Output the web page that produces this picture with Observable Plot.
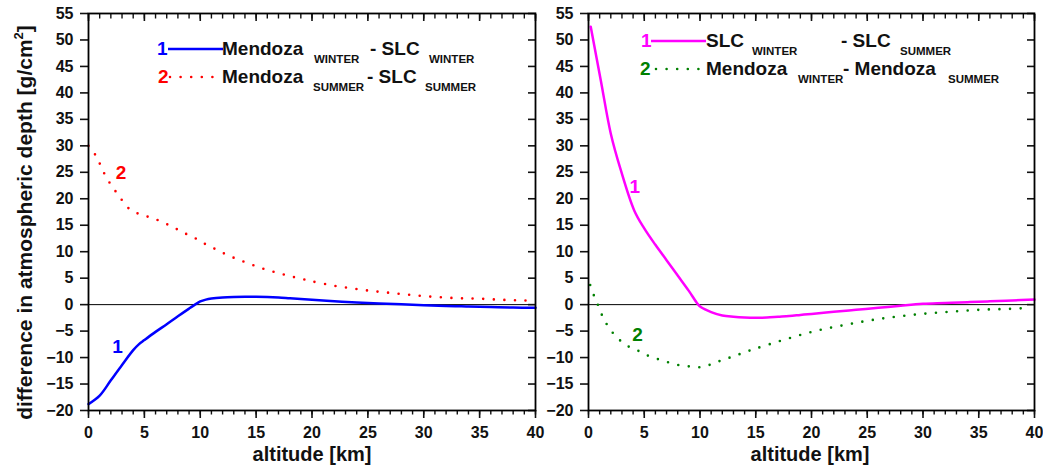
<!DOCTYPE html>
<html>
<head>
<meta charset="utf-8">
<script src="https://cdn.jsdelivr.net/npm/d3@7"></script>
<script src="https://cdn.jsdelivr.net/npm/@observablehq/plot@0.6"></script>
<style>
  html, body { margin: 0; padding: 0; background: #fff; }
  #wrap { position: relative; width: 1043px; height: 465px; overflow: hidden;
          font-family: "Liberation Sans", Arial, Helvetica, sans-serif; font-weight: bold; color: #111; }
  #wrap svg { position: absolute; top: 0; }
  .t { position: absolute; white-space: nowrap; line-height: 1; }
  .big { font-size: 19px; }
  .sub { font-size: 11.5px; }
</style>
</head>
<body>
<div id="wrap"></div>
<script>
// ---------- data ----------
// Left panel, curve 1: Mendoza WINTER - SLC WINTER
const leftAlt1 = [0, 1, 2, 3, 4, 4.5, 5, 6, 7, 8, 9, 9.5, 10, 10.5, 11, 12, 13, 14, 15, 16, 17, 18, 19, 20, 22, 24, 26, 28, 30, 32, 34, 36, 38, 40];
const leftVal1 = [-18.8, -17.2, -14.3, -11.4, -8.6, -7.5, -6.7, -5.15, -3.7, -2.2, -0.75, -0.05, 0.6, 0.95, 1.15, 1.35, 1.45, 1.5, 1.5, 1.45, 1.35, 1.2, 1.05, 0.9, 0.65, 0.4, 0.2, 0.05, -0.1, -0.25, -0.35, -0.45, -0.55, -0.6];
// Left panel, curve 2: Mendoza SUMMER - SLC SUMMER
const leftAlt2 = [0, 0.7, 1.1, 1.6, 2.2, 2.9, 3.7, 4.7, 5.65, 6.6, 7.6, 8.5, 9.5, 10.4, 11.35, 12.3, 13.25, 14.2, 15.2, 16.1, 17.1, 18.0, 19.0, 20.0, 21.9, 23.8, 25.7, 27.6, 29.5, 31.4, 33.3, 35.2, 37.2, 39.0, 40];
const leftVal2 = [30.0, 28.0, 26.2, 24.0, 22.1, 20.0, 18.0, 17.0, 16.4, 15.6, 14.6, 13.6, 12.6, 11.5, 10.5, 9.5, 8.65, 7.9, 7.1, 6.5, 5.9, 5.4, 4.9, 4.4, 3.6, 3.0, 2.5, 2.1, 1.7, 1.4, 1.2, 1.1, 0.9, 0.8, 0.75];
// Right panel, curve 1: SLC WINTER - SLC SUMMER
const rightAlt1 = [0.2, 1.1, 2.0, 2.9, 4.1, 5.0, 6, 7, 8, 9, 9.8, 10.1, 11, 12, 13, 14, 15, 16, 17, 18, 19, 20, 22, 24, 26, 28, 30, 32, 34, 36, 38, 40];
const rightVal1 = [52.5, 42.4, 32.3, 25.4, 17.8, 14.4, 11.3, 8.4, 5.5, 2.6, 0.1, -0.5, -1.4, -2.05, -2.3, -2.45, -2.5, -2.45, -2.3, -2.15, -1.95, -1.75, -1.35, -0.97, -0.6, -0.2, 0.15, 0.3, 0.47, 0.63, 0.8, 0.95];
// Right panel, curve 2: Mendoza WINTER - Mendoza SUMMER
const rightAlt2 = [0.15, 0.5, 0.9, 1.3, 1.85, 2.6, 3.5, 4.5, 5.4, 6.4, 7.35, 8.3, 9.25, 10.2, 11.2, 12.1, 13.1, 14.0, 15.0, 16.9, 18.8, 20.7, 22.6, 24.6, 26.4, 28.3, 30.2, 32.1, 34.0, 35.9, 37.8, 39.7];
const rightVal2 = [3.7, 1.65, -0.3, -2.4, -4.4, -6.3, -7.8, -8.75, -9.7, -10.4, -11.0, -11.5, -11.7, -11.8, -11.1, -10.4, -9.7, -9.0, -8.3, -7.05, -5.85, -4.8, -4.0, -3.2, -2.6, -2.1, -1.7, -1.4, -1.1, -0.9, -0.8, -0.6];

// axis ticks
const xMajor = [0, 5, 10, 15, 20, 25, 30, 35, 40];
const xMinor = d3.range(0, 41, 1);
const yMajor = [-20, -15, -10, -5, 0, 5, 10, 15, 20, 25, 30, 35, 40, 45, 50, 55];

// in-plot curve labels
const leftLabels = [{x: 2.9, y: 24.8, t: "2", c: "#ff0000"}, {x: 2.6, y: -8.0, t: "1", c: "#0000ff"}];
const rightLabels = [{x: 4.15, y: 22.2, t: "1", c: "#ff00ff"}, {x: 4.4, y: -5.8, t: "2", c: "#008000"}];

const colors = {blue: "#0000ff", red: "#ff0000", magenta: "#ff00ff", green: "#008000"};

const rows = (xs, ys) => xs.map((x, i) => ({x, y: ys[i]}));

function panel({width, marginLeft, marginRight, s1, s2, c1, c2, labels}) {
  return Plot.plot({
    width, height: 465,
    marginLeft, marginRight, marginTop: 13, marginBottom: 55,
    x: {domain: [0, 40]},
    y: {domain: [-20, 55]},
    style: {fontFamily: '"Liberation Sans", Arial, sans-serif', fontSize: "16px", fontWeight: "bold", color: "#111", background: "transparent", overflow: "visible"},
    marks: [
      Plot.ruleY([0], {stroke: "#000", strokeWidth: 1}),
      Plot.line(s2, {x: "x", y: "y", stroke: c2, strokeWidth: 2.6, strokeDasharray: "0 10.6", strokeLinecap: "round", curve: "catmull-rom"}),
      Plot.line(s1, {x: "x", y: "y", stroke: c1, strokeWidth: 2.5, curve: "catmull-rom"}),
      Plot.text(labels, {x: "x", y: "y", text: "t", fill: "c", fontSize: 19, fontWeight: "bold"}),
      // bottom axis
      Plot.axisX({anchor: "bottom", ticks: xMajor, tickSize: 8, tickPadding: 8, label: null, strokeWidth: 1.6}),
      Plot.axisX({anchor: "bottom", ticks: xMinor, tickSize: 4.5, tickFormat: () => "", label: null, strokeWidth: 1.4}),
      // top axis (inward ticks)
      Plot.axisX({anchor: "top", ticks: xMajor, tickSize: -7, tickFormat: () => "", label: null, strokeWidth: 1.6}),
      Plot.axisX({anchor: "top", ticks: xMinor, tickSize: -4.5, tickFormat: () => "", label: null, strokeWidth: 1.4}),
      // left axis
      Plot.axisY({anchor: "left", ticks: yMajor, tickSize: 8, tickPadding: 7, label: null, strokeWidth: 1.6}),
      // right axis (inward ticks)
      Plot.axisY({anchor: "right", ticks: yMajor, tickSize: -8, tickFormat: () => "", label: null, strokeWidth: 1.6}),
      Plot.frame({stroke: "#000", strokeWidth: 1.8})
    ]
  });
}

const wrap = document.getElementById("wrap");

const left = panel({width: 540, marginLeft: 88, marginRight: 5,
  s1: rows(leftAlt1, leftVal1), s2: rows(leftAlt2, leftVal2), c1: colors.blue, c2: colors.red, labels: leftLabels});
left.style.left = "0px";
wrap.appendChild(left);

const right = panel({width: 503, marginLeft: 48, marginRight: 9,
  s1: rows(rightAlt1, rightVal1), s2: rows(rightAlt2, rightVal2), c1: colors.magenta, c2: colors.green, labels: rightLabels});
right.style.left = "540px";
wrap.appendChild(right);

// ---------- titles and legends (HTML text) ----------
function addText(txt, x, baseline, cls, color) {
  const el = document.createElement("div");
  el.className = "t " + cls;
  el.textContent = txt;
  if (color) el.style.color = color;
  wrap.appendChild(el);
  const fs = parseFloat(getComputedStyle(el).fontSize);
  el.style.left = x + "px";
  el.style.top = (baseline - fs * 0.89) + "px";
  return el;
}

// legend swatches
function swatch(x1, x2, y, color, dotted) {
  const ns = "http://www.w3.org/2000/svg";
  const s = document.createElementNS(ns, "svg");
  s.setAttribute("width", 1043); s.setAttribute("height", 465);
  s.style.left = "0px"; s.style.pointerEvents = "none";
  const l = document.createElementNS(ns, "line");
  l.setAttribute("x1", x1); l.setAttribute("x2", x2); l.setAttribute("y1", y); l.setAttribute("y2", y);
  l.setAttribute("stroke", color);
  if (dotted) { l.setAttribute("stroke-width", 2.6); l.setAttribute("stroke-dasharray", "0 10.6"); l.setAttribute("stroke-linecap", "round"); }
  else l.setAttribute("stroke-width", 2.5);
  s.appendChild(l);
  wrap.appendChild(s);
}

// left legend
addText("1", 157, 56, "big", colors.blue);
swatch(168, 223, 49, colors.blue, false);
addText("Mendoza", 222, 56, "big");
addText("WINTER", 314, 64, "sub");
addText("- SLC", 370, 56, "big");
addText("WINTER", 429, 64, "sub");

addText("2", 158, 84, "big", colors.red);
swatch(170, 223, 77, colors.red, true);
addText("Mendoza", 222, 84, "big");
addText("SUMMER", 313, 92, "sub");
addText("- SLC", 367, 84, "big");
addText("SUMMER", 425, 92, "sub");

// right legend
addText("1", 641, 48, "big", colors.magenta);
swatch(651, 706, 41, colors.magenta, false);
addText("SLC", 706, 48, "big");
addText("WINTER", 752, 56, "sub");
addText("- SLC", 841, 48, "big");
addText("SUMMER", 900, 56, "sub");

addText("2", 640, 76, "big", colors.green);
swatch(656, 706, 69, colors.green, true);
addText("Mendoza", 706, 76, "big");
addText("WINTER", 798, 84, "sub");
addText("- Mendoza", 843, 76, "big");
addText("SUMMER", 948, 84, "sub");

// x titles
function xTitle(cx) {
  const el = addText("altitude [km]", 0, 462, "big");
  el.style.fontSize = "20px";
  const w = el.getBoundingClientRect().width;
  el.style.left = (cx - w / 2) + "px";
  el.style.top = (462 - 20 * 0.89) + "px";
}
xTitle(312);
xTitle(810);

// y title
const yt = document.createElement("div");
yt.className = "t";
yt.style.fontSize = "21px";
yt.innerHTML = "difference in atmospheric depth [g/cm<span style=\"font-size:13px;vertical-align:9px\">2</span>]";
wrap.appendChild(yt);
const r = yt.getBoundingClientRect();
yt.style.left = (23 - r.width / 2) + "px";
yt.style.top = (222 - r.height / 2) + "px";
yt.style.transform = "rotate(-90deg)";
</script>
</body>
</html>
